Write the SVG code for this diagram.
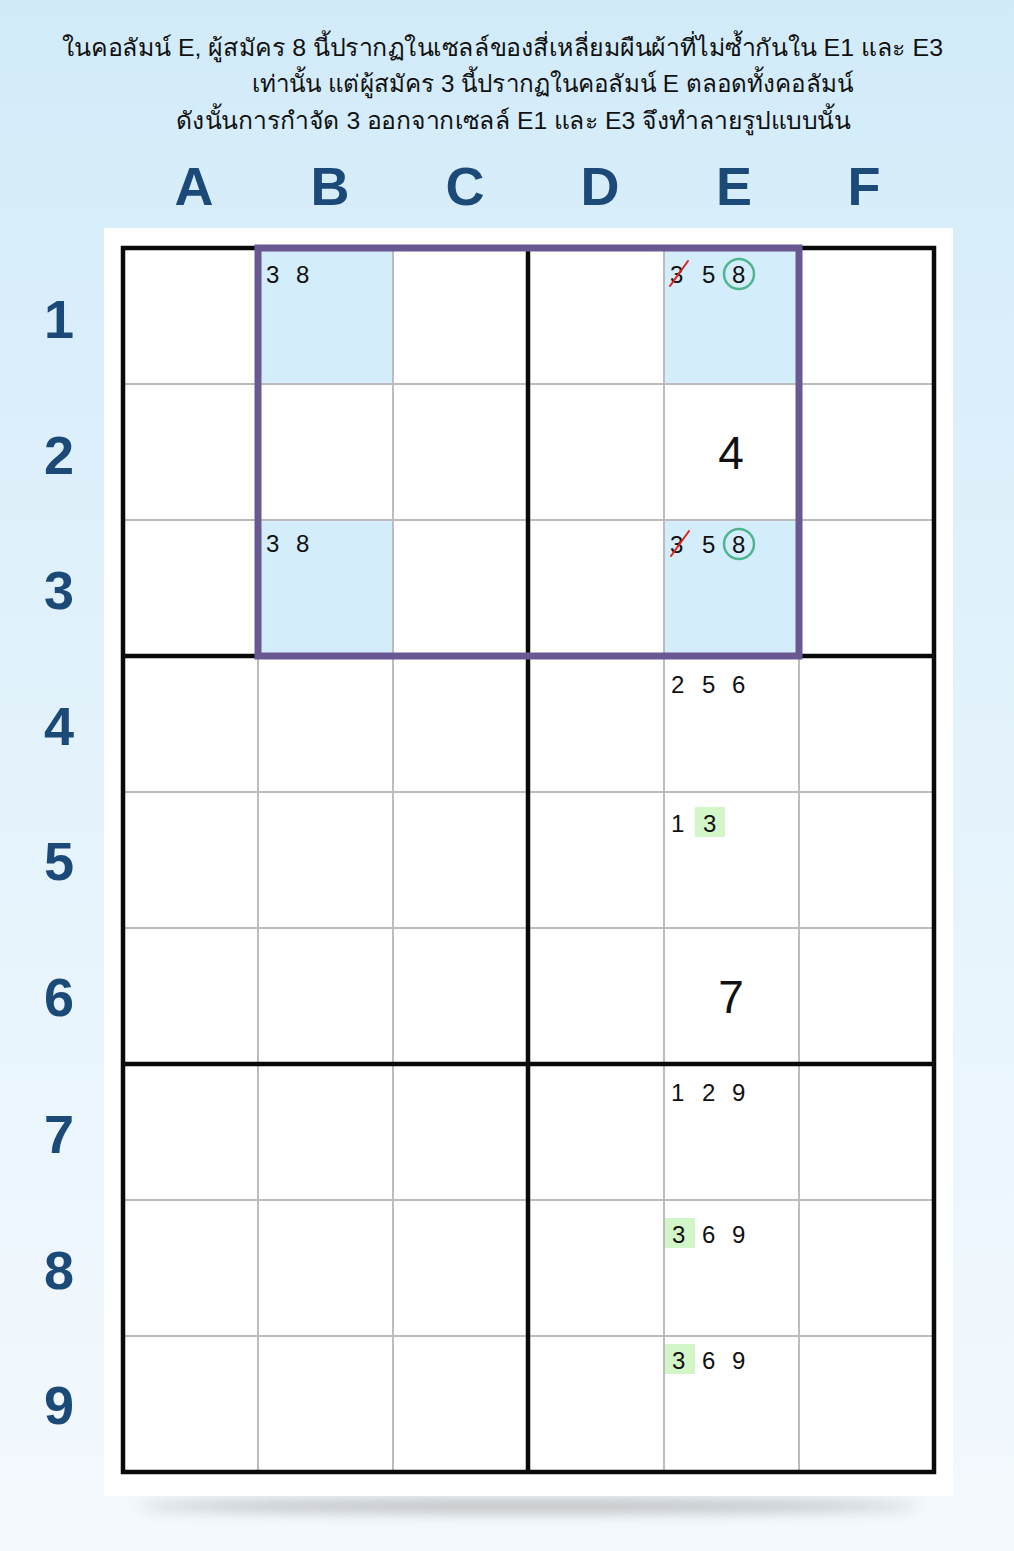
<svg xmlns="http://www.w3.org/2000/svg" width="1014" height="1551" viewBox="0 0 1014 1551">
<defs>
<linearGradient id="bg" x1="0" y1="0" x2="0" y2="1">
<stop offset="0" stop-color="#d2ebf9"/>
<stop offset="0.5" stop-color="#e4f3fc"/>
<stop offset="1" stop-color="#f4f9fd"/>
</linearGradient>
<filter id="blur" x="-20%" y="-200%" width="140%" height="500%"><feGaussianBlur stdDeviation="7"/></filter>
<style>
.title{font-family:"Liberation Sans","Noto Sans",sans-serif;font-size:24px;fill:#111}
.hdr{font-family:"Liberation Sans","DejaVu Sans",sans-serif;font-size:54px;font-weight:bold;fill:#1c4a78;text-anchor:middle}
.cand{font-family:"Liberation Sans","DejaVu Sans",sans-serif;font-size:24px;fill:#111}
.big{font-family:"Liberation Sans","DejaVu Sans",sans-serif;font-size:46px;fill:#111;text-anchor:middle}
.thin{stroke:#bcbcbc;stroke-width:2;fill:none}
.thick{stroke:#0a0a0a;stroke-width:4.5;fill:none}
.hl{fill:#d3eefa}
.gr{fill:#d3f6c9}
.ring{fill:none;stroke:#4fb48f;stroke-width:2.5}
.strike{stroke:#e0201c;stroke-width:2;stroke-linecap:round}
</style>
</defs>
<rect width="1014" height="1551" fill="url(#bg)"/>
<g id="title">
<text class="title" x="62" y="56" textLength="881" lengthAdjust="spacingAndGlyphs">ในคอลัมน์ E, ผู้สมัคร 8 นี้ปรากฏในเซลล์ของสี่เหลี่ยมผืนผ้าที่ไม่ซ้ำกันใน E1 และ E3</text>
<text class="title" x="252" y="92" textLength="601" lengthAdjust="spacingAndGlyphs">เท่านั้น แต่ผู้สมัคร 3 นี้ปรากฏในคอลัมน์ E ตลอดทั้งคอลัมน์</text>
<text class="title" x="176" y="129" textLength="674" lengthAdjust="spacingAndGlyphs">ดังนั้นการกำจัด 3 ออกจากเซลล์ E1 และ E3 จึงทำลายรูปแบบนั้น</text>
</g>
<g id="col-headers">
<text class="hdr" x="194" y="205">A</text>
<text class="hdr" x="330" y="205">B</text>
<text class="hdr" x="465" y="205">C</text>
<text class="hdr" x="600" y="205">D</text>
<text class="hdr" x="734" y="205">E</text>
<text class="hdr" x="864" y="205">F</text>
</g>
<g id="row-headers">
<text class="hdr" x="59" y="338">1</text>
<text class="hdr" x="59" y="474">2</text>
<text class="hdr" x="59" y="609">3</text>
<text class="hdr" x="59" y="745">4</text>
<text class="hdr" x="59" y="880">5</text>
<text class="hdr" x="59" y="1016">6</text>
<text class="hdr" x="59" y="1153">7</text>
<text class="hdr" x="59" y="1289">8</text>
<text class="hdr" x="59" y="1424">9</text>
</g>
<ellipse cx="528" cy="1506" rx="390" ry="6" fill="#8a8a8a" opacity="0.6" filter="url(#blur)"/>
<rect id="panel" x="104" y="228" width="849" height="1268" fill="#ffffff"/>
<g id="highlights">
<rect class="hl" x="258" y="248" width="135" height="136"/>
<rect class="hl" x="258" y="520" width="135" height="136"/>
<rect class="hl" x="664" y="248" width="135" height="136"/>
<rect class="hl" x="664" y="520" width="135" height="136"/>
<rect class="gr" x="695" y="807" width="30" height="30"/>
<rect class="gr" x="665" y="1218" width="30" height="30"/>
<rect class="gr" x="665" y="1344" width="30" height="30"/>
</g>
<g id="grid">
<path class="thin" d="M258 248V1472M393 248V1472M664 248V1472M799 248V1472M123 384H934M123 520H934M123 792H934M123 928H934M123 1200H934M123 1336H934"/>
<path class="thick" d="M528 248V1472M123 656H934M123 1064H934"/>
<rect class="thick" x="123" y="248" width="811" height="1224" stroke-width="5"/>
</g>
<g id="rectangle-pattern">
<rect x="258" y="248" width="541" height="408" fill="none" stroke="#6a5892" stroke-width="7"/>
</g>
<g id="cell-B1"><text class="cand" x="266" y="283">3</text><text class="cand" x="296" y="283">8</text></g>
<g id="cell-B3"><text class="cand" x="266" y="552">3</text><text class="cand" x="296" y="552">8</text></g>
<g id="cell-E1">
<text class="cand" x="670" y="283">3</text>
<line class="strike" x1="670" y1="286" x2="688" y2="261"/>
<text class="cand" x="702" y="283">5</text>
<text class="cand" x="732" y="283">8</text>
<circle class="ring" cx="739" cy="274" r="15"/>
</g>
<g id="cell-E2"><text class="big" x="731" y="469">4</text></g>
<g id="cell-E3">
<text class="cand" x="670" y="553">3</text>
<line class="strike" x1="671" y1="556" x2="689" y2="531"/>
<text class="cand" x="702" y="553">5</text>
<text class="cand" x="732" y="553">8</text>
<circle class="ring" cx="739" cy="544" r="15"/>
</g>
<g id="cell-E4"><text class="cand" x="671" y="693">2</text><text class="cand" x="702" y="693">5</text><text class="cand" x="732" y="693">6</text></g>
<g id="cell-E5"><text class="cand" x="671" y="832">1</text><text class="cand" x="703" y="832">3</text></g>
<g id="cell-E7"><text class="cand" x="671" y="1101">1</text><text class="cand" x="702" y="1101">2</text><text class="cand" x="732" y="1101">9</text></g>
<g id="cell-E6"><text class="big" x="731" y="1013">7</text></g>
<g id="cell-E8"><text class="cand" x="672" y="1243">3</text><text class="cand" x="702" y="1243">6</text><text class="cand" x="732" y="1243">9</text></g>
<g id="cell-E9"><text class="cand" x="672" y="1369">3</text><text class="cand" x="702" y="1369">6</text><text class="cand" x="732" y="1369">9</text></g>
</svg>
